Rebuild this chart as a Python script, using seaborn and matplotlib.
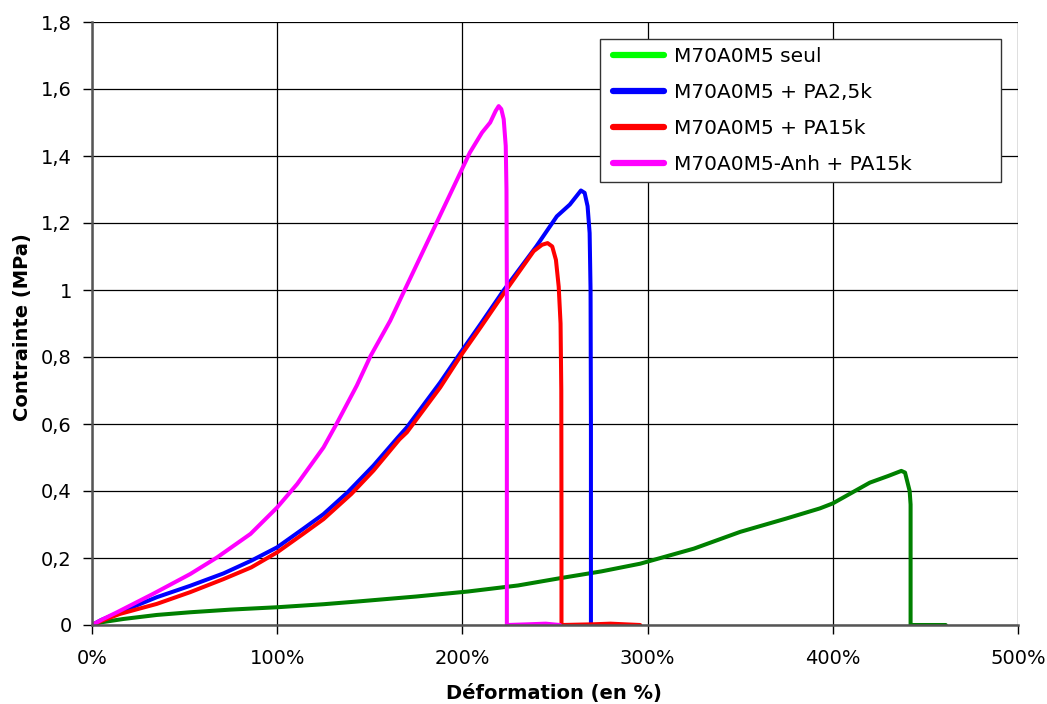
import matplotlib
matplotlib.use("Agg")
import matplotlib.pyplot as plt
from matplotlib.lines import Line2D
from matplotlib.legend_handler import HandlerLine2D
from matplotlib.ticker import FuncFormatter, MultipleLocator
import seaborn as sns
import pandas as pd

# ---- data (strain in %, stress in MPa) ----
labels = ["M70A0M5 seul", "M70A0M5 + PA2,5k", "M70A0M5 + PA15k", "M70A0M5-Anh + PA15k"]

green_x = [0, 5, 17, 35, 53, 75, 100, 125, 143, 175, 203, 230, 253, 275, 296, 325, 350, 375,
           393, 400, 420, 430, 437, 439, 440, 441.5, 442, 442, 450, 461]
green_y = [0, 0.008, 0.018, 0.03, 0.038, 0.046, 0.053, 0.062, 0.07, 0.085, 0.10, 0.118, 0.14,
           0.16, 0.183, 0.228, 0.278, 0.318, 0.348, 0.363, 0.425, 0.445, 0.46, 0.455, 0.433,
           0.40, 0.36, 0, 0, 0]

blue_x = [0, 5, 15, 35, 53, 71, 86, 100, 114, 125, 138, 152, 165, 170, 188, 199, 210, 222, 240,
          251, 258, 264, 266, 267.6, 268.7, 269.2, 269.4, 269.4, 275, 280, 285]
blue_y = [0, 0.015, 0.038, 0.083, 0.117, 0.154, 0.192, 0.232, 0.287, 0.331, 0.396, 0.476, 0.559,
          0.59, 0.724, 0.813, 0.9, 0.997, 1.131, 1.22, 1.255, 1.297, 1.29, 1.25, 1.17, 1.0, 0.6,
          0, 0, 0.003, 0]

red_x = [0, 5, 15, 35, 53, 71, 86, 100, 114, 125, 140, 152, 166, 170, 188, 199, 210, 222, 238.5,
         243, 246, 248.5, 250.5, 252, 253, 253.4, 253.5, 253.5, 270, 280, 296]
red_y = [0, 0.012, 0.033, 0.063, 0.098, 0.137, 0.172, 0.217, 0.272, 0.316, 0.391, 0.461, 0.554,
         0.575, 0.709, 0.803, 0.89, 0.987, 1.116, 1.135, 1.14, 1.13, 1.09, 1.01, 0.9, 0.7, 0.3,
         0, 0.002, 0.004, 0]

magenta_x = [0, 5, 13.5, 33, 53, 67.6, 85.6, 100, 110.8, 125, 132, 143, 150.4, 161, 169, 186,
             204, 210.6, 215, 218, 219.6, 221, 222.3, 223.4, 223.8, 224, 224, 235, 245, 252.7]
magenta_y = [0, 0.015, 0.038, 0.093, 0.152, 0.202, 0.272, 0.351, 0.421, 0.53, 0.6, 0.715, 0.803,
             0.908, 1.002, 1.2, 1.41, 1.47, 1.50, 1.535, 1.549, 1.54, 1.51, 1.43, 1.3, 1.0, 0,
             0.002, 0.004, 0]

line_colors = ["#008000", "#0000FF", "#FF0000", "#FF00FF"]
legend_colors = ["#00FF00", "#0000FF", "#FF0000", "#FF00FF"]

frames = []
for lab, xs, ys in zip(labels, [green_x, blue_x, red_x, magenta_x],
                       [green_y, blue_y, red_y, magenta_y]):
    frames.append(pd.DataFrame({"x": xs, "y": ys, "serie": lab}))
df = pd.concat(frames, ignore_index=True)

sns.set_theme(style="white")
plt.rcParams["font.family"] = ["DejaVu Sans"]

fig = plt.figure(figsize=(10.47, 7.04), dpi=100)
ax = fig.add_axes([92 / 1047, 1 - 625 / 704, (1018 - 92) / 1047, (625 - 22) / 704])

sns.lineplot(data=df, x="x", y="y", hue="serie", hue_order=labels,
             palette=dict(zip(labels, line_colors)), sort=False, estimator=None,
             units="serie", linewidth=2.9, ax=ax, legend=False)

ax.set_xlim(0, 500)
ax.set_ylim(0, 1.8)
ax.xaxis.set_major_locator(MultipleLocator(100))
ax.yaxis.set_major_locator(MultipleLocator(0.2))
ax.xaxis.set_major_formatter(FuncFormatter(lambda v, p: f"{int(round(v))}%"))


def yfmt(v, p):
    s = f"{v:.1f}"
    if s.endswith(".0"):
        s = s[:-2]
    return s.replace(".", ",")


ax.yaxis.set_major_formatter(FuncFormatter(yfmt))

ax.grid(True, color="black", linewidth=0.9)
ax.set_axisbelow(True)
for side in ["top", "right"]:
    ax.spines[side].set_visible(False)
for side in ["left", "bottom"]:
    ax.spines[side].set_color("#555555")
    ax.spines[side].set_linewidth(1.8)

ax.tick_params(axis="both", which="major", labelsize=14, colors="black",
               direction="out", length=6.5, width=1, bottom=True, left=True)
ax.tick_params(axis="x", pad=11)
ax.tick_params(axis="y", pad=8)

ax.set_xlabel("Déformation (en %)", fontsize=14, fontweight="bold", color="black")
ax.set_ylabel("Contrainte (MPa)", fontsize=14, fontweight="bold", color="black")
ax.xaxis.set_label_coords(0.499, (625 - 684) / 603)
ax.yaxis.set_label_coords((32 - 92) / 926, 0.494)

handles = [Line2D([0], [0], color=c, linewidth=4.5) for c in legend_colors]
leg = ax.legend(handles, labels, loc="upper left",
                bbox_to_anchor=((600 - 92) / 926, 0.3, (1001 - 600) / 926, (625 - 39) / 603 - 0.3),
                mode="expand", borderaxespad=0, fontsize=14.5, frameon=True, fancybox=False,
                handlelength=2.75, handletextpad=0.5, labelspacing=0.83,
                borderpad=0.42, framealpha=1,
                handler_map={Line2D: HandlerLine2D(xpad=0.25)})
leg.get_frame().set_edgecolor("#333333")
leg.get_frame().set_linewidth(1.0)
for t in leg.get_texts():
    t.set_color("black")

fig.savefig("out.png", dpi=100)
